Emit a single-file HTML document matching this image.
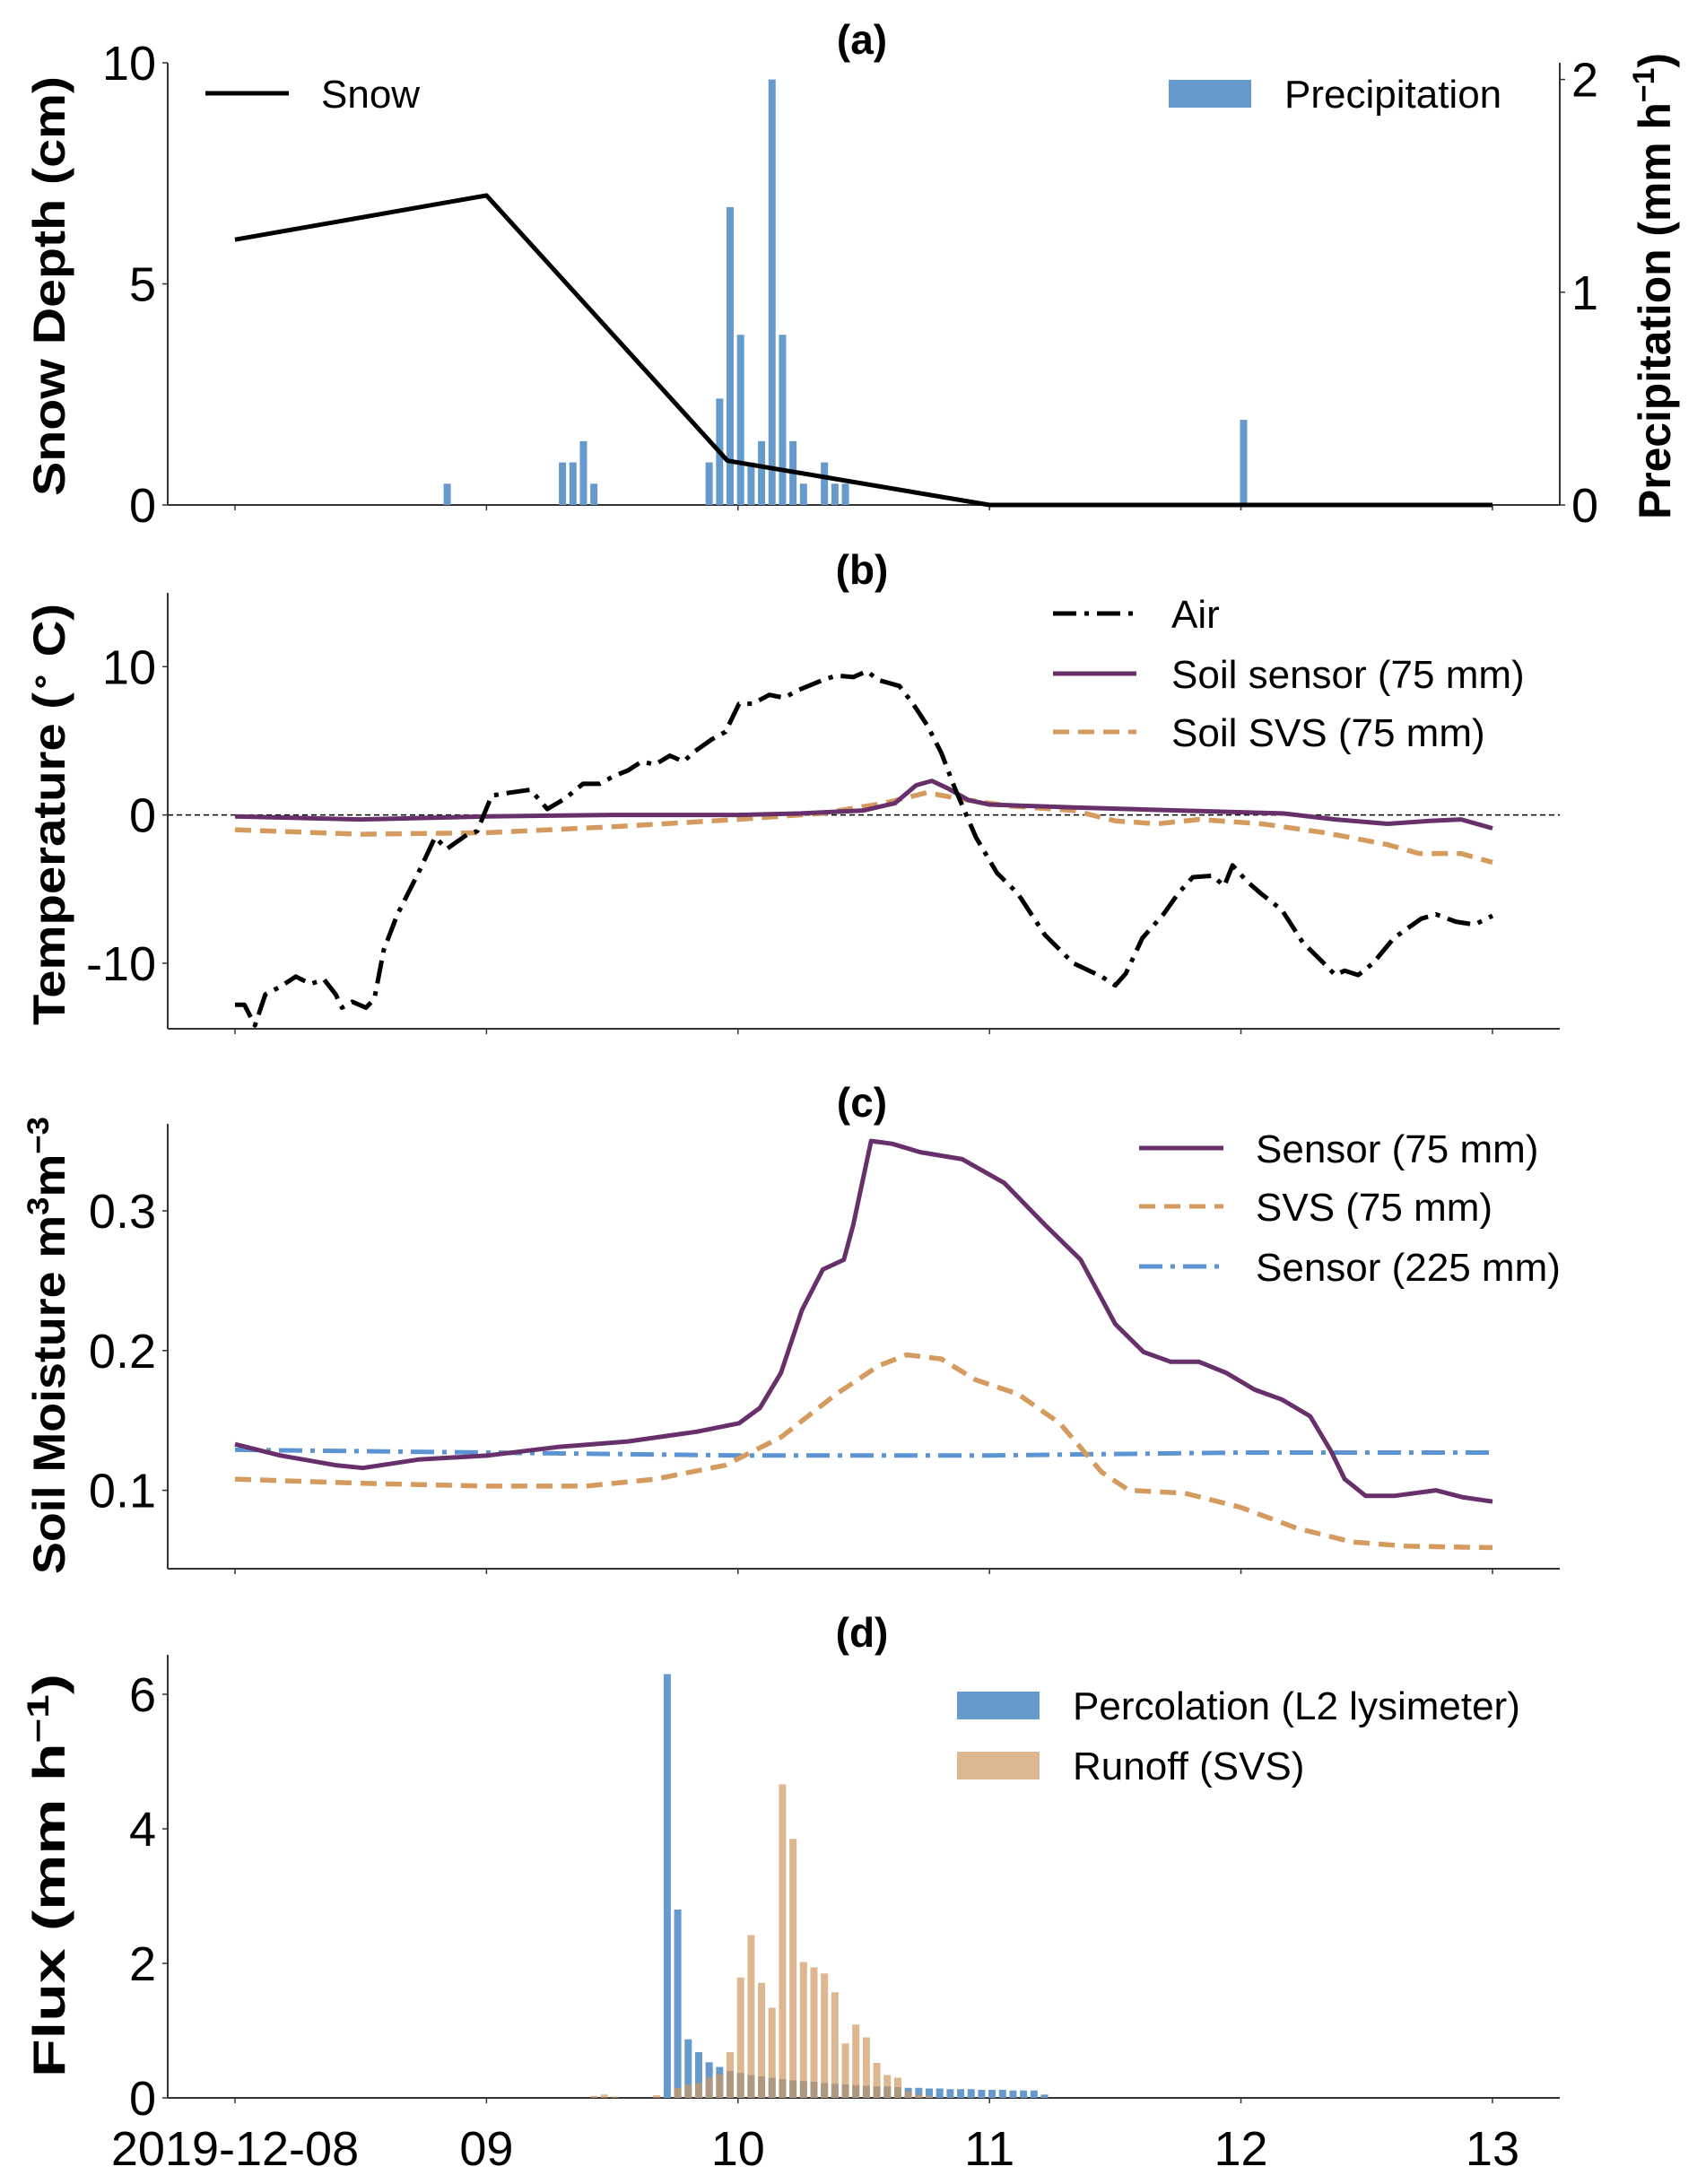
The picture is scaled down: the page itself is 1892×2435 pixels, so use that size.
<!DOCTYPE html>
<html><head><meta charset="utf-8"><style>
body{margin:0;background:#fff}
svg{display:block;font-family:"Liberation Sans",sans-serif}
</style></head><body>
<svg id="fig" width="1892" height="2435" viewBox="0 0 1892 2435" xmlns="http://www.w3.org/2000/svg">
<g id="static"></g>
</svg>
<script>
// ---------- data ----------
const dayLabels=["2019-12-08","09","10","11","12","13"];
const snowHours=[0,24,47,72,96,120];
const snowDepth=[6,7,1,0,0,0];
const precipHours=[20,31,32,33,34,45,46,47,48,49,50,51,52,53,54,56,57,58,96];
const precipVals=[0.1,0.2,0.2,0.3,0.1,0.2,0.5,1.4,0.8,0.2,0.3,2.0,0.8,0.3,0.1,0.2,0.1,0.1,0.4];
const airHours=[0,0.9,1.9,2.9,4.3,5.8,7.2,8.5,9.6,10.2,11.2,12.5,13.3,14.2,15.5,17.5,19.1,20.2,22.2,23.1,24.5,26.2,28.2,29.8,31.5,33.2,34.8,36.1,37.5,38.8,40.1,41.5,42.8,43.9,45.5,46.8,48.1,49.4,51,52.4,53.7,56.1,57.4,59,60.3,61.4,63.4,64.7,66.1,67.4,68.7,70.7,72.7,74.7,77.3,80,82.7,84,85,86.6,88.6,90,91.4,93.3,94.4,95.2,96.6,97.9,99.9,101.9,103.9,105,105.9,107.2,108.6,110.6,113.2,114.6,116.5,118.3,120];
const airTemp=[-12.8,-12.8,-14.2,-12.1,-11.6,-10.9,-11.4,-11.1,-12.1,-13,-12.6,-13,-12.4,-9.1,-6.7,-3.9,-1.5,-2.3,-1.3,-1.1,1.3,1.5,1.7,0.4,1.1,2.1,2.1,2.6,3,3.6,3.4,4,3.6,4.3,5.1,5.6,7.5,7.5,8.1,7.9,8.4,9.1,9.4,9.3,9.7,9.1,8.7,7.5,6,4.2,1.8,-1.5,-3.9,-5.3,-8.1,-10,-10.9,-11.5,-10.7,-8.3,-6.7,-5.3,-4.2,-4.1,-4.8,-3.4,-4.5,-5.3,-6.4,-8.6,-10,-10.8,-10.5,-10.8,-10,-8.3,-7,-6.7,-7.2,-7.4,-6.8];
const soilSensHours=[0,12,24,36,48,54,60,63,65,66.5,68,70,72,80,90,100,105,110,114,117,120];
const soilSensTemp=[-0.1,-0.3,-0.1,0,0,0.1,0.3,0.8,2.0,2.3,1.8,1.0,0.7,0.5,0.3,0.1,-0.3,-0.6,-0.4,-0.3,-0.9];
const soilSvsHours=[0,12,24,36,48,56,62,66,70,74,80,84,88,92,98,104,110,113,117,120];
const soilSvsTemp=[-1.0,-1.3,-1.2,-0.8,-0.3,0.1,0.8,1.5,1.0,0.6,0.3,-0.4,-0.6,-0.3,-0.6,-1.2,-2.0,-2.6,-2.6,-3.2];
const sm75Hours=[0,4.3,9.6,12.2,17.5,24.2,30.8,37.5,44.1,48.1,50.1,52.1,54.1,56.1,58.1,59,60.7,62.7,65.4,69.4,73.4,77.3,80.7,84,86.7,89.3,92,94.6,97.3,99.9,102.6,104.6,105.9,107.9,110.6,114.6,117.2,120];
const sm75=[0.133,0.125,0.118,0.116,0.122,0.125,0.131,0.135,0.142,0.148,0.159,0.184,0.229,0.258,0.265,0.29,0.35,0.348,0.342,0.337,0.32,0.29,0.265,0.219,0.199,0.192,0.192,0.184,0.172,0.165,0.153,0.128,0.108,0.096,0.096,0.1,0.095,0.092];
const svsSmHours=[0,12.2,24.2,33.5,40.1,46.8,52.1,57.4,61.4,64.1,67.4,70.7,74.7,78.7,82.7,85.3,90.6,95.9,101.3,106.6,111.9,120];
const svsSm=[0.108,0.105,0.103,0.103,0.108,0.118,0.138,0.169,0.189,0.197,0.194,0.179,0.169,0.148,0.113,0.1,0.098,0.088,0.073,0.063,0.06,0.059];
const sm225Hours=[0,24,48,72,96,120];
const sm225=[0.129,0.127,0.125,0.125,0.127,0.127];
const percHours=[41,42,43,44,45,46,47,48,49,50,51,52,53,54,55,56,57,58,59,60,61,62,63,64,65,66,67,68,69,70,71,72,73,74,75,76,77];
const percVals=[6.3,2.8,0.87,0.68,0.53,0.46,0.4,0.37,0.34,0.32,0.3,0.28,0.26,0.25,0.24,0.22,0.21,0.2,0.19,0.18,0.17,0.17,0.16,0.15,0.15,0.14,0.14,0.13,0.13,0.13,0.12,0.12,0.12,0.11,0.11,0.11,0.05];
const runHours=[34,35,36,40,42,43,44,45,46,47,48,49,50,51,52,53,54,55,56,57,58,59,60,61,62,63,64,65,66];
const runVals=[0.03,0.05,0.02,0.04,0.15,0.2,0.22,0.3,0.35,0.68,1.79,2.42,1.71,1.34,4.66,3.85,2.02,1.94,1.85,1.57,0.81,1.09,0.9,0.52,0.34,0.3,0.1,0.05,0.03];
const ticksA=[0,5,10], ticksAR=[0,1,2], ticksB=[-10,0,10], ticksC=[0.1,0.2,0.3], ticksD=[0,2,4,6];

// ---------- scales ----------
const L=187,R=1739;
const xh=h=>262+h*11.683;
const ya=v=>563-v*49.3, yp=v=>563-v*237.2;
const yb=v=>908.6-v*16.53;
const yc=v=>1350-(v-0.3)*1558;
const yd=v=>2339-v*75;
const NS="http://www.w3.org/2000/svg";
const svg=document.getElementById('fig');
function el(tag,attrs,parent){const e=document.createElementNS(NS,tag);for(const k in attrs)e.setAttribute(k,attrs[k]);(parent||svg).appendChild(e);return e;}
function txt(s,attrs){const t=el('text',attrs);t.textContent=s;return t;}
function poly(hs,vs,ys,style){return el('polyline',Object.assign({points:hs.map((h,i)=>xh(h).toFixed(1)+','+ys(vs[i]).toFixed(1)).join(' '),fill:'none','stroke-linejoin':'round'},style));}

const panels=[{top:70,bot:563,ys:ya,ticks:ticksA,title:'(a)',ty:60,name:'snow'},
 {top:661,bot:1147,ys:yb,ticks:ticksB,title:'(b)',ty:651,name:'temperature'},
 {top:1253,bot:1749,ys:yc,ticks:ticksC,title:'(c)',ty:1245,name:'soil-moisture'},
 {top:1845,bot:2339,ys:yd,ticks:ticksD,title:'(d)',ty:1836,name:'flux'}];
panels.forEach((p,pi)=>{
  const g=el('g',{});
  
  
  const ls=el('line',{x1:L,y1:p.top,x2:L,y2:p.bot,stroke:'#333','stroke-width':2},g);
  
  
  const bs=el('line',{x1:L,y1:p.bot,x2:R,y2:p.bot,stroke:'#333','stroke-width':2},g);
  
  
  p.ticks.forEach(v=>{
    const y=p.ys(v);
    el('line',{x1:L-6,y1:y,x2:L,y2:y,stroke:'#333','stroke-width':1.5},g);
    const t=txt(String(v),{x:174,y:y+19,'font-size':54,'text-anchor':'end'});
    
    
  });
  dayLabels.forEach((d,i)=>{
    const x=xh(i*24);
    el('line',{x1:x,y1:p.bot,x2:x,y2:p.bot+6,stroke:'#333','stroke-width':1.5},g);
  });
  const tt=txt(p.title,{x:961,y:p.ty,'font-size':46,'font-weight':'bold','text-anchor':'middle'});
  
  
});
// x tick labels
dayLabels.forEach((d,i)=>{
  const t=txt(d,{x:xh(i*24),y:2414,'font-size':54,'text-anchor':'middle'});
  
  
});
// right axis panel a
el('line',{x1:R,y1:70,x2:R,y2:563,stroke:'#333','stroke-width':2});
ticksAR.forEach(v=>{
  const y=yp(v);
  el('line',{x1:R,y1:y,x2:R+6,y2:y,stroke:'#333','stroke-width':1.5});
  const t=txt(String(v),{x:1752,y:y+19,'font-size':54});
  
  
});
// axis titles
function ytitle(s,x,y,len,name){
  const t=el('text',{x:0,y:0,'font-size':50,'font-weight':'bold','text-anchor':'middle',transform:`translate(${x},${y}) rotate(-90)`,textLength:len,lengthAdjust:'spacingAndGlyphs'});
  t.innerHTML=s;
  
  
}
ytitle('Snow Depth (cm)',72,319,468,'y-axis-title-snow');
ytitle('Precipitation (mm h<tspan dy="-18" font-size="34">−1</tspan><tspan dy="18">)</tspan>',1862,319,520,'y-axis-title-precip');
ytitle('Temperature (<tspan dy="-16" font-size="34">∘</tspan><tspan dy="16"> C)</tspan>',72,908,470,'y-axis-title-temp');
ytitle('Soil Moisture m<tspan dy="-18" font-size="34">3</tspan><tspan dy="18">m</tspan><tspan dy="-18" font-size="34">−3</tspan>',72,1500,510,'y-axis-title-moisture');
ytitle('Flux (mm h<tspan dy="-18" font-size="34">−1</tspan><tspan dy="18">)</tspan>',72,2091,450,'y-axis-title-flux');

// ---------- panel a ----------
precipHours.forEach((h,i)=>{
  const b=el('rect',{x:xh(h+0.25)-4,y:yp(precipVals[i]),width:8,height:563-yp(precipVals[i]),fill:'#6699cc'});
  
  
});
const snowLine=poly(snowHours,snowDepth,ya,{stroke:'#000','stroke-width':5});


// legend a
el('line',{x1:229,y1:104,x2:322,y2:104,stroke:'#000','stroke-width':5});
txt('Snow',{x:358,y:120,'font-size':44});
el('rect',{x:1303,y:89,width:92,height:31,fill:'#6699cc'});
txt('Precipitation',{x:1432,y:120,'font-size':44});

// ---------- panel b ----------
el('line',{x1:L,y1:yb(0),x2:R,y2:yb(0),stroke:'#000','stroke-width':1.5,'stroke-dasharray':'6,4'});
const sl=poly(soilSvsHours,soilSvsTemp,yb,{stroke:'#d49a5e','stroke-width':5.5,'stroke-dasharray':'18,10'});


const ss=poly(soilSensHours,soilSensTemp,yb,{stroke:'#68306a','stroke-width':5});


const al=poly(airHours,airTemp,yb,{stroke:'#000','stroke-width':5,'stroke-dasharray':'26,9,5,9'});


el('line',{x1:1174,y1:684,x2:1267,y2:684,stroke:'#000','stroke-width':5,'stroke-dasharray':'26,9,5,9'});
txt('Air',{x:1306,y:700,'font-size':44});
el('line',{x1:1174,y1:751,x2:1267,y2:751,stroke:'#68306a','stroke-width':5});
txt('Soil sensor (75 mm)',{x:1306,y:767,'font-size':44});
el('line',{x1:1174,y1:816,x2:1267,y2:816,stroke:'#d49a5e','stroke-width':5,'stroke-dasharray':'18,10'});
txt('Soil SVS (75 mm)',{x:1306,y:832,'font-size':44});

// ---------- panel c ----------
const c225=poly(sm225Hours,sm225,yc,{stroke:'#5b93d3','stroke-width':5,'stroke-dasharray':'26,9,5,9'});


const csvs=poly(svsSmHours,svsSm,yc,{stroke:'#d49a5e','stroke-width':5.5,'stroke-dasharray':'18,10'});


const c75=poly(sm75Hours,sm75,yc,{stroke:'#68306a','stroke-width':5});


el('line',{x1:1270,y1:1280,x2:1364,y2:1280,stroke:'#68306a','stroke-width':5});
txt('Sensor (75 mm)',{x:1400,y:1296,'font-size':44});
el('line',{x1:1270,y1:1345,x2:1364,y2:1345,stroke:'#d49a5e','stroke-width':5,'stroke-dasharray':'18,10'});
txt('SVS (75 mm)',{x:1400,y:1361,'font-size':44});
el('line',{x1:1270,y1:1412,x2:1364,y2:1412,stroke:'#5b93d3','stroke-width':5,'stroke-dasharray':'26,9,5,9'});
txt('Sensor (225 mm)',{x:1400,y:1428,'font-size':44});

// ---------- panel d ----------
percHours.forEach((h,i)=>{
  const b=el('rect',{x:xh(h+0.25)-4,y:yd(percVals[i]),width:8,height:2339-yd(percVals[i]),fill:'#6699cc'});
  
  
});
runHours.forEach((h,i)=>{
  const b=el('rect',{x:xh(h+0.25)-4,y:yd(runVals[i]),width:8,height:2339-yd(runVals[i]),fill:'rgba(205,152,95,0.7)'});
  
  
});
el('rect',{x:1067,y:1886,width:92,height:31,fill:'#6699cc'});
txt('Percolation (L2 lysimeter)',{x:1196,y:1917,'font-size':44});
el('rect',{x:1067,y:1953,width:92,height:31,fill:'rgba(205,152,95,0.7)'});
txt('Runoff (SVS)',{x:1196,y:1984,'font-size':44});
</script>
</body></html>
